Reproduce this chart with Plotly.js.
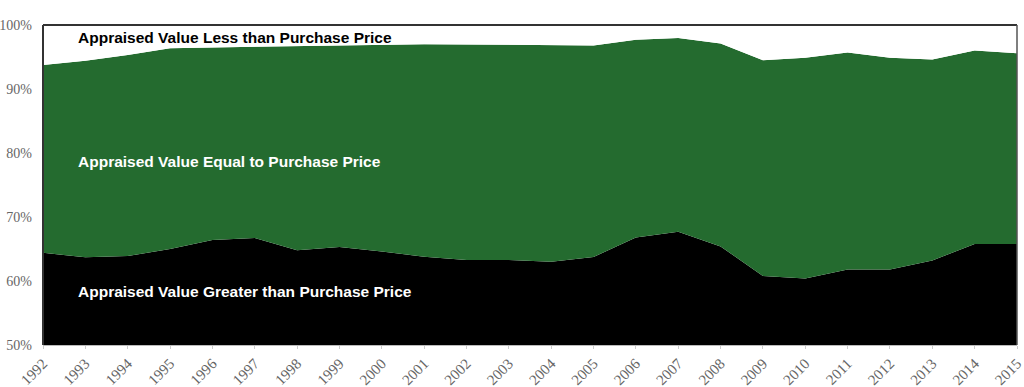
<!DOCTYPE html>
<html>
<head>
<meta charset="utf-8">
<script src="https://cdn.plot.ly/plotly-3.0.1.min.js"></script>
<style>html,body{margin:0;padding:0;background:#fff;}#chart{width:1024px;height:387px;}</style>
</head>
<body>
<div id="chart"></div>
<script>
const years = [1992,1993,1994,1995,1996,1997,1998,1999,2000,2001,2002,2003,2004,2005,2006,2007,2008,2009,2010,2011,2012,2013,2014,2015];
// Share (%) of appraisals with value greater than purchase price
const greaterPct = [64.4,63.7,63.9,65.0,66.4,66.7,64.8,65.3,64.6,63.8,63.3,63.3,63.0,63.75,66.8,67.7,65.4,60.8,60.4,61.8,61.8,63.2,65.8,65.8];
// Cumulative share (%) greater-or-equal (top of green band)
const greaterOrEqualPct = [93.75,94.4,95.3,96.35,96.5,96.6,96.7,96.8,97.0,97.0,96.95,96.9,96.8,96.8,97.7,97.95,97.1,94.5,94.9,95.7,94.9,94.6,96.0,95.6];
const equalPct = greaterOrEqualPct.map((v,i)=> +(v - greaterPct[i]).toFixed(2));
const lessPct = greaterOrEqualPct.map(v=> +(100 - v).toFixed(2));
const seriesNames = ["Appraised Value Greater than Purchase Price","Appraised Value Equal to Purchase Price","Appraised Value Less than Purchase Price"];
const yTicks = [50,60,70,80,90,100];

const colors = ["#000000","#246b2f","#ffffff"];
const vals = [greaterPct, equalPct, lessPct];
const traces = vals.map((v,i)=>({
  x: years, y: v, name: seriesNames[i], type: 'scatter', mode: 'lines',
  stackgroup: 'one', line: {width: 0, color: colors[i]}, fillcolor: colors[i],
  hoverinfo: 'skip'
}));

const labelFont = {family: 'Liberation Sans, Arial, sans-serif', size: 15.5};
const layout = {
  width: 1024, height: 387,
  margin: {l: 43, r: 7, t: 25, b: 42},
  paper_bgcolor: '#fff', plot_bgcolor: '#fff',
  showlegend: false,
  xaxis: {
    range: [1992, 2015], tickvals: years, ticktext: years.map(String),
    tickangle: -45, ticks: 'outside', ticklen: 3, tickcolor: '#ccc',
    ticklabeloverflow: 'allow',
    showgrid: false, zeroline: false, showline: true, linecolor: '#bbb', linewidth: 1,
    tickfont: {family: 'Liberation Serif, Times New Roman, serif', size: 15, color: '#666'}
  },
  yaxis: {
    range: [50, 100], tickvals: yTicks, ticktext: yTicks.map(v=>v+'%'),
    showgrid: false, zeroline: false, showline: false, ticks: '', ticklabelstandoff: 10,
    tickfont: {family: 'Liberation Serif, Times New Roman, serif', size: 14, color: '#666'}
  },
  shapes: [
    {type:'line', xref:'paper', yref:'paper', x0:0, x1:1, y0:1, y1:1, line:{color:'#333', width:2}},
    {type:'line', xref:'paper', yref:'paper', x0:0, x1:0, y0:0, y1:1, line:{color:'#333', width:2}},
    {type:'line', xref:'paper', yref:'paper', x0:1, x1:1, y0:0, y1:1, line:{color:'#555', width:1.5}}
  ],
  annotations: [
    {x: 1992.78, y: 98.1, xref:'x', yref:'y', xanchor:'left', yanchor:'middle', showarrow:false,
     text: '<b>' + seriesNames[2] + '</b>', font: Object.assign({color:'#000'}, labelFont)},
    {x: 1992.78, y: 78.6, xref:'x', yref:'y', xanchor:'left', yanchor:'middle', showarrow:false,
     text: '<b>' + seriesNames[1] + '</b>', font: Object.assign({color:'#fff'}, labelFont)},
    {x: 1992.78, y: 58.3, xref:'x', yref:'y', xanchor:'left', yanchor:'middle', showarrow:false,
     text: '<b>' + seriesNames[0] + '</b>', font: Object.assign({color:'#fff'}, labelFont)}
  ]
};
Plotly.newPlot('chart', traces, layout, {displayModeBar: false, staticPlot: true});
</script>
</body>
</html>
